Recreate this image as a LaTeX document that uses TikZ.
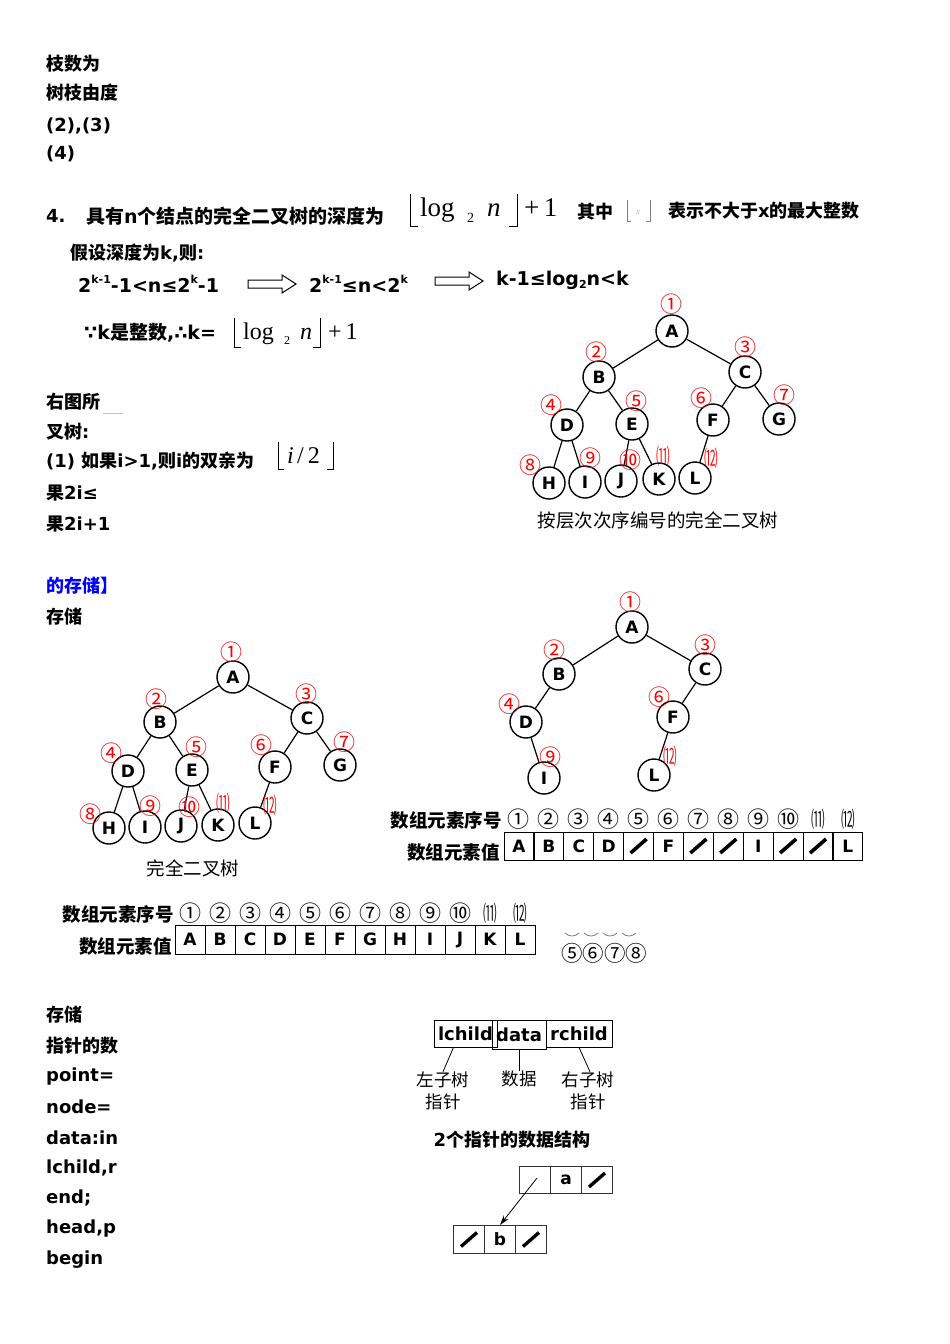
\documentclass[tikz,border=0pt]{standalone}
\usepackage{fontspec}
\usepackage{graphicx}
\setmainfont{DejaVu Sans}
\newfontfamily\cjk{Noto Sans CJK SC}
\newfontfamily\serif{Liberation Serif}
\usetikzlibrary{arrows.meta}
\newcommand\C[1]{{\cjk #1}}
\newcommand\CB[1]{{\cjk\bfseries #1}}
\newcommand\sps[1]{\raisebox{.5em}{\fontsize{11}{11}\selectfont #1}}
\newcommand\sbs[1]{\raisebox{-.2em}{\fontsize{11}{11}\selectfont #1}}
\newcommand\nar[1]{\scalebox{0.62}[1]{#1}}
\tikzset{
  txt/.style={anchor=west, inner sep=0, font=\bfseries\fontsize{18}{18}\selectfont},
  tn/.style={circle, draw, line width=1.4pt, minimum size=32pt, inner sep=0, font=\bfseries\fontsize{17}{17}\selectfont},
  rn/.style={text=red, inner sep=0, font=\cjk\fontsize{22}{22}\selectfont},
  bn/.style={inner sep=0, font=\cjk\fontsize{22}{22}\selectfont},
  edge/.style={line width=1.2pt},
  cell/.style={draw, line width=1pt, minimum width=30pt, minimum height=28pt, inner sep=0, font=\bfseries\fontsize{17}{17}\selectfont},
  slash/.style={line width=3.6pt},
  brk/.style={line width=1pt},
  hollow/.style={line width=1pt, line join=miter},
}
\begin{document}
\begin{tikzpicture}[x=1pt,y=-1pt]
\fill[white] (0,0) rectangle (950,1344);
\useasboundingbox (0,0) rectangle (950,1344);

% ---------- top left ----------
\node[txt] (t1) at (46,64) {\C{枝数为}};
\node[txt] (t2) at (46,93) {\C{树枝由度}};
\node[txt] (t3) at (46,126) {(2),(3)};
\node[txt] (t4) at (46,154) {(4)};

% ---------- line 4 ----------
\node[txt] (l4a) at (46,216) {4.};
\node[txt] (l4b) at (86,216) {\fontsize{19}{19}\selectfont\CB{具有}n\CB{个结点的完全二叉树的深度为}};
\draw[brk] (410,194) -- (410,226) -- (418,226);
\node[anchor=base west, inner sep=0, font=\serif\fontsize{27}{27}\selectfont] (f1log) at (420,216) {log};
\node[anchor=base west, inner sep=0, font=\serif\fontsize{14}{14}\selectfont] (f1two) at (467,222) {2};
\node[anchor=base west, inner sep=0, font=\serif\itshape\fontsize{27}{27}\selectfont] (f1n) at (487,216) {n};
\draw[brk] (509,226) -- (517,226) -- (517,194);
\node[anchor=base west, inner sep=0, font=\serif\fontsize{27}{27}\selectfont] (f1p) at (524,216) {+\,1};
\node[txt] (qz) at (577,212) {\fontsize{18}{18}\selectfont\CB{其中}};
\draw[gray, line width=0.6pt] (627,200) -- (627,221) -- (631,221);
\draw[gray, line width=0.6pt] (646,221) -- (650,221) -- (650,200);
\node[inner sep=0, text=gray!60, font=\serif\itshape\fontsize{9}{9}\selectfont] (fx) at (638,212) {x};
\node[txt] (bs) at (668,211) {\fontsize{18}{18}\selectfont\CB{表示不大于}x\CB{的最大整数}};

\node[txt] (jz) at (70,253) {\fontsize{18}{18}\selectfont\CB{假设深度为}k,\CB{则}:};
\node[txt, font=\bfseries\fontsize{19}{19}\selectfont] (ie1) at (78,284) {2\sps{k-1}-1<n≤2\sps{k}-1};
\draw[hollow] (248,280) -- (282,280) -- (282,275) -- (296,284) -- (282,293) -- (282,288) -- (248,288) -- cycle;
\node[txt, font=\bfseries\fontsize{19}{19}\selectfont] (ie2) at (309,284) {2\sps{k-1}≤n<2\sps{k}};
\draw[hollow] (435,277) -- (469,277) -- (469,272) -- (483,281) -- (469,290) -- (469,285) -- (435,285) -- cycle;
\node[txt, font=\bfseries\fontsize{19}{19}\selectfont] (ie3) at (496,280) {k-1≤log\sbs{2}n<k};

\node[txt, font=\bfseries\fontsize{19}{19}\selectfont] (ks) at (84,333) {∵k\CB{是整数},∴k=};
\draw[brk] (234,318) -- (234,347) -- (241,347);
\node[anchor=base west, inner sep=0, font=\serif\fontsize{24}{24}\selectfont] (f2log) at (243,339) {log};
\node[anchor=base west, inner sep=0, font=\serif\fontsize{12}{12}\selectfont] (f2two) at (284,344) {2};
\node[anchor=base west, inner sep=0, font=\serif\itshape\fontsize{24}{24}\selectfont] (f2n) at (300,339) {n};
\draw[brk] (313,347) -- (320,347) -- (320,318);
\node[anchor=base west, inner sep=0, font=\serif\fontsize{24}{24}\selectfont] (f2p) at (328,339) {+\,1};

% ---------- tree 1 ----------
\node[tn] (tA) at (672,331) {A};
\node[tn] (tB) at (599,377) {B};
\node[tn] (tC) at (745,372) {C};
\node[tn] (tD) at (567,425) {D};
\node[tn] (tE) at (632,424) {E};
\node[tn] (tF) at (713,420) {F};
\node[tn] (tG) at (779,419) {G};
\node[tn] (tH) at (549,483) {H};
\node[tn] (tI) at (585,482) {I};
\node[tn] (tJ) at (621,481) {J};
\node[tn] (tK) at (659,479) {K};
\node[tn] (tL) at (695,478) {L};
\foreach \a/\b in {tA/tB,tA/tC,tB/tD,tB/tE,tC/tF,tC/tG,tD/tH,tD/tI,tE/tJ,tE/tK,tF/tL}
  \draw[edge] (\a) -- (\b);
\node[rn] (tn1) at (671,304) {①};
\node[rn] (tn2) at (596,352) {②};
\node[rn] (tn3) at (745,347) {③};
\node[rn] (tn4) at (551,405) {④};
\node[rn] (tn5) at (636,401) {⑤};
\node[rn] (tn6) at (701,398) {⑥};
\node[rn] (tn7) at (784,395) {⑦};
\node[rn] (tn8) at (530,465) {⑧};
\node[rn] (tn9) at (590,458) {⑨};
\node[rn] (tn10) at (630,460) {⑩};
\node[rn] (tn11) at (663,456) {\nar{⑾}};
\node[rn] (tn12) at (711,458) {\nar{⑿}};
\node[inner sep=0, font=\cjk\fontsize{18.5}{18.5}\selectfont] (cap1) at (658,520) {按层次次序编号的完全二叉树};

% ---------- middle left text ----------
\node[txt] (m1) at (46,402) {\C{右图所}};
\draw[gray!50, line width=0.6pt] (103,413) -- (123,413);
\node[txt] (m2) at (46,432) {\C{叉树}:};
\node[txt] (m3) at (46,461) {(1) \C{如果}i>1,\C{则}i\C{的双亲为}};
\draw[brk] (278,442) -- (278,469) -- (284,469);
\node[anchor=base west, inner sep=0, font=\serif\itshape\fontsize{24}{24}\selectfont] (f3i) at (287,463) {i};
\node[anchor=base west, inner sep=0, font=\serif\fontsize{24}{24}\selectfont] (f3r) at (297,463) {/\,2};
\draw[brk] (327,469) -- (333,469) -- (333,442);
\node[txt] (m4) at (46,493) {\C{果}2i≤};
\node[txt] (m5) at (46,524) {\C{果}2i+1};
\node[txt, text=blue] (m6) at (46,586) {\CB{的存储】}};
\node[txt] (m7) at (46,617) {\C{存储}};

% ---------- tree 2 ----------
\node[tn] (uA) at (233,677) {A};
\node[tn] (uB) at (160,722) {B};
\node[tn] (uC) at (307,718) {C};
\node[tn] (uD) at (128,771) {D};
\node[tn] (uE) at (192,770) {E};
\node[tn] (uF) at (275,767) {F};
\node[tn] (uG) at (340,765) {G};
\node[tn] (uH) at (109,828) {H};
\node[tn] (uI) at (145,827) {I};
\node[tn] (uJ) at (181,826) {J};
\node[tn] (uK) at (218,825) {K};
\node[tn] (uL) at (255,823) {L};
\foreach \a/\b in {uA/uB,uA/uC,uB/uD,uB/uE,uC/uF,uC/uG,uD/uH,uD/uI,uE/uJ,uE/uK,uF/uL}
  \draw[edge] (\a) -- (\b);
\node[rn] (un1) at (231,652) {①};
\node[rn] (un2) at (156,699) {②};
\node[rn] (un3) at (306,694) {③};
\node[rn] (un4) at (111,753) {④};
\node[rn] (un5) at (196,747) {⑤};
\node[rn] (un6) at (261,745) {⑥};
\node[rn] (un7) at (344,742) {⑦};
\node[rn] (un8) at (90,814) {⑧};
\node[rn] (un9) at (150,806) {⑨};
\node[rn] (un10) at (189,807) {⑩};
\node[rn] (un11) at (223,803) {\nar{⑾}};
\node[rn] (un12) at (270,805) {\nar{⑿}};
\node[inner sep=0, font=\cjk\fontsize{18.5}{18.5}\selectfont] (cap2) at (193,868) {完全二叉树};

% ---------- tree 3 ----------
\node[tn] (vA) at (632,627) {A};
\node[tn] (vB) at (559,674) {B};
\node[tn] (vC) at (705,669) {C};
\node[tn] (vD) at (526,722) {D};
\node[tn] (vF) at (673,717) {F};
\node[tn] (vI) at (544,778) {I};
\node[tn] (vL) at (654,775) {L};
\foreach \a/\b in {vA/vB,vA/vC,vB/vD,vC/vF,vD/vI,vF/vL}
  \draw[edge] (\a) -- (\b);
\node[rn] (vn1) at (630,602) {①};
\node[rn] (vn2) at (554,650) {②};
\node[rn] (vn3) at (705,645) {③};
\node[rn] (vn4) at (509,704) {④};
\node[rn] (vn6) at (659,697) {⑥};
\node[rn] (vn9) at (550,757) {⑨};
\node[rn] (vn12) at (670,756) {\nar{⑿}};

% ---------- array 1 ----------
\node[anchor=east, inner sep=0, font=\cjk\bfseries\fontsize{18.5}{18.5}\selectfont] (pl1) at (502,820) {数组元素序号};
\node[anchor=east, inner sep=0, font=\cjk\bfseries\fontsize{18.5}{18.5}\selectfont] (pl2) at (500,852) {数组元素值};
\foreach \i/\g in {1/①,2/②,3/③,4/④,5/⑤,6/⑥,7/⑦,8/⑧,9/⑨,10/⑩,11/\nar{⑾},12/\nar{⑿}}
  \node[bn] (pq\i) at ({518+30*(\i-1)},819) {\g};
\foreach \i/\v in {1/A,2/B,3/C,4/D,5/{},6/F,7/{},8/{},9/I,10/{},11/{},12/L}
  \node[cell] (p\i) at ({519+29.9*(\i-1)},846) {\v};
\foreach \i in {5,7,8,10,11}
  \draw[slash] ([shift={(-8,7)}]p\i.center) -- ([shift={(8,-7)}]p\i.center);

% ---------- array 2 ----------
\node[anchor=east, inner sep=0, font=\cjk\bfseries\fontsize{18.5}{18.5}\selectfont] (ql1) at (174,914) {数组元素序号};
\node[anchor=east, inner sep=0, font=\cjk\bfseries\fontsize{18.5}{18.5}\selectfont] (ql2) at (172,946) {数组元素值};
\foreach \i/\g in {1/①,2/②,3/③,4/④,5/⑤,6/⑥,7/⑦,8/⑧,9/⑨,10/⑩,11/\nar{⑾},12/\nar{⑿}}
  \node[bn] (qq\i) at ({190+30*(\i-1)},913) {\g};
\foreach \i/\v in {1/A,2/B,3/C,4/D,5/E,6/F,7/G,8/H,9/I,10/J,11/K,12/L}
  \node[cell, minimum height=29pt] (q\i) at ({190+30*(\i-1)},939.5) {\v};
\node[anchor=west, inner sep=0, font=\cjk\fontsize{21.5}{21.5}\selectfont] (fr) at (561,953) {⑤⑥⑦⑧};
\foreach \x in {572,591,610,629}
  \draw[gray, line width=0.8pt] (\x-7,933) .. controls (\x-3,937) and (\x+3,937) .. (\x+7,933);

% ---------- bottom left ----------
\node[txt] (b1) at (46,1015) {\C{存储}};
\node[txt] (b2) at (46,1046) {\C{指针的数}};
\node[txt] (b3) at (46,1077) {point=};
\node[txt] (b4) at (46,1107) {node=};
\node[txt] (b5) at (46,1138) {data:in};
\node[txt] (b6) at (46,1168) {lchild,r};
\node[txt] (b7) at (46,1198) {end;};
\node[txt] (b8) at (46,1229) {head,p};
\node[txt] (b9) at (46,1260) {begin};

% ---------- node structure ----------
\node[draw, line width=0.8pt, minimum width=63pt, minimum height=27pt, inner sep=0, font=\bfseries\fontsize{18}{18}\selectfont] (lc) at (465.5,1033.5) {lchild};
\node[draw, line width=0.8pt, minimum width=54pt, minimum height=29pt, inner sep=0, font=\bfseries\fontsize{18}{18}\selectfont] (dt) at (519,1034.5) {data};
\node[draw, line width=0.8pt, minimum width=66pt, minimum height=27pt, inner sep=0, font=\bfseries\fontsize{18}{18}\selectfont] (rc) at (579,1033.5) {rchild};
\node[inner sep=0, font=\cjk\fontsize{17.5}{17.5}\selectfont] (lz1) at (443,1080) {左子树};
\node[inner sep=0, font=\cjk\fontsize{17.5}{17.5}\selectfont] (lz2) at (443,1102) {指针};
\node[inner sep=0, font=\cjk\fontsize{17.5}{17.5}\selectfont] (sj) at (519,1079) {数据};
\node[inner sep=0, font=\cjk\fontsize{17.5}{17.5}\selectfont] (rz1) at (588,1080) {右子树};
\node[inner sep=0, font=\cjk\fontsize{17.5}{17.5}\selectfont] (rz2) at (588,1102) {指针};
\draw[line width=0.8pt] ([xshift=-12pt]lc.south) -- (lz1.north);
\draw[line width=0.8pt] (dt.south) -- (sj.north);
\draw[line width=0.8pt] (rc.south) -- ([xshift=2pt]rz1.north);
\node[inner sep=0, font=\bfseries\fontsize{18}{18}\selectfont] (cap3) at (512,1140) {2\C{个指针的数据结构}};

\node[cell, draw=black!80, minimum width=31pt, minimum height=27pt] (a1) at (535,1180) {};
\node[cell, draw=black!80, minimum width=31pt, minimum height=27pt] (a2) at (566,1180) {a};
\node[cell, draw=black!80, minimum width=31pt, minimum height=27pt] (a3) at (597,1180) {};
\node[cell, draw=black!80, minimum width=31pt, minimum height=28pt] (b1n) at (469,1239.5) {};
\node[cell, draw=black!80, minimum width=31pt, minimum height=28pt] (b2n) at (500,1239.5) {b};
\node[cell, draw=black!80, minimum width=31pt, minimum height=28pt] (b3n) at (531,1239.5) {};
\foreach \n in {a3,b1n,b3n}
  \draw[line width=3.4pt] ([shift={(-8,7)}]\n.center) -- ([shift={(8,-7)}]\n.center);
\draw[line width=0.8pt, -{Stealth[length=10pt,width=6pt]}] ([shift={(2,-2)}]a1.center) -- (b2n.north);
\end{tikzpicture}
\end{document}
